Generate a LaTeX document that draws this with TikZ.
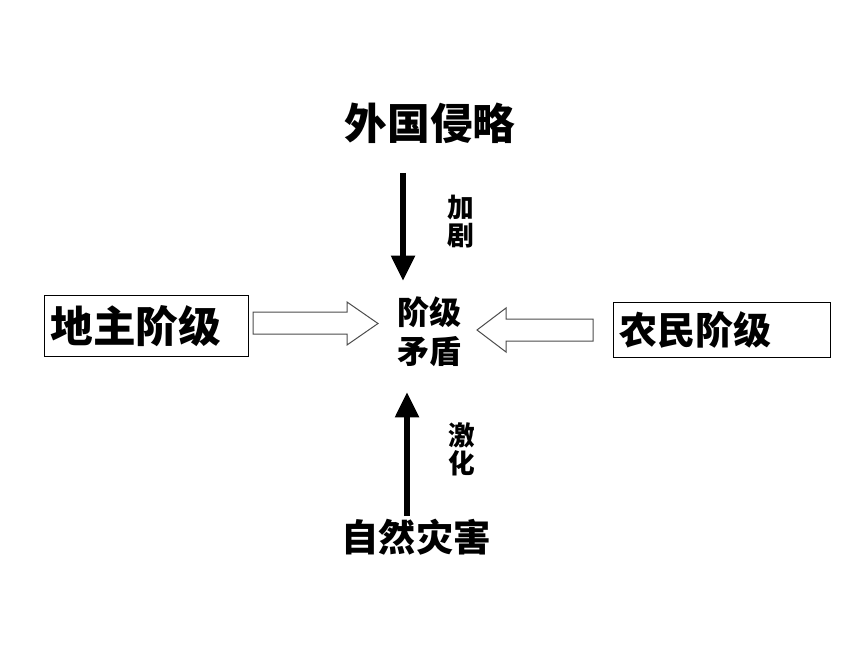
\documentclass[tikz,border=0pt]{standalone}
\usepackage{fontspec}
\newfontfamily\cjk{Noto Sans CJK SC}
\usetikzlibrary{arrows.meta}
\tikzstyle{title}=[font=\cjk\bfseries\fontsize{32pt}{36pt}\selectfont, inner sep=0pt]
\tikzstyle{classbox}=[draw, line width=0.75pt, inner sep=4.5pt, align=left, anchor=west]
\tikzstyle{small}=[font=\cjk\bfseries\fontsize{20pt}{21pt}\selectfont, align=center, inner sep=0pt]
\tikzstyle{bigarrow}=[line width=4.5pt, -{Triangle[length=19pt,width=17pt]}]
\tikzstyle{hollow}=[draw=black!70, line width=0.75pt, fill=white]

\begin{document}
\begin{tikzpicture}[x=0.75pt, y=-0.75pt]
\useasboundingbox (0, 0) rectangle (860, 645);
\node[title] at (430, 123) (invasion) {外国侵略};
\node[title] at (416, 537) (disaster) {\fontsize{28pt}{30pt}\selectfont 自然灾害};
\node[font=\cjk\bfseries\fontsize{24pt}{29pt}\selectfont, align=center, inner sep=0pt] at (429, 332) (conflict) {阶级\\矛盾};
\node[classbox, font=\cjk\bfseries\fontsize{32pt}{36pt}\selectfont, text width=144pt, minimum height=45pt] at (44, 326) (landlord) {地主阶级};
\node[classbox, font=\cjk\bfseries\fontsize{28.5pt}{32pt}\selectfont, text width=153.75pt, minimum height=41.25pt] at (613, 329.5) (peasant) {农民阶级};
\node[small] at (461, 222) (worsen) {加\\剧};
\node[small] at (462, 449) (intensify) {激\\化};

% black arrows
\coordinate (downA) at (403, 173);
\coordinate (downB) at (403, 281);
\coordinate (upA) at (407, 516);
\coordinate (upB) at (407, 392);
\draw[bigarrow] (downA) -- (downB);
\draw[bigarrow] (upA) -- (upB);

% hollow arrows
\draw[hollow] (253, 312) -- (347, 312) -- (347, 302) -- (378, 323.5) -- (347, 345) -- (347, 334) -- (253, 334) -- cycle;
\draw[hollow] (593, 319) -- (506, 319) -- (506, 308) -- (477, 330) -- (506, 352) -- (506, 341) -- (593, 341) -- cycle;

\end{tikzpicture}
\end{document}
